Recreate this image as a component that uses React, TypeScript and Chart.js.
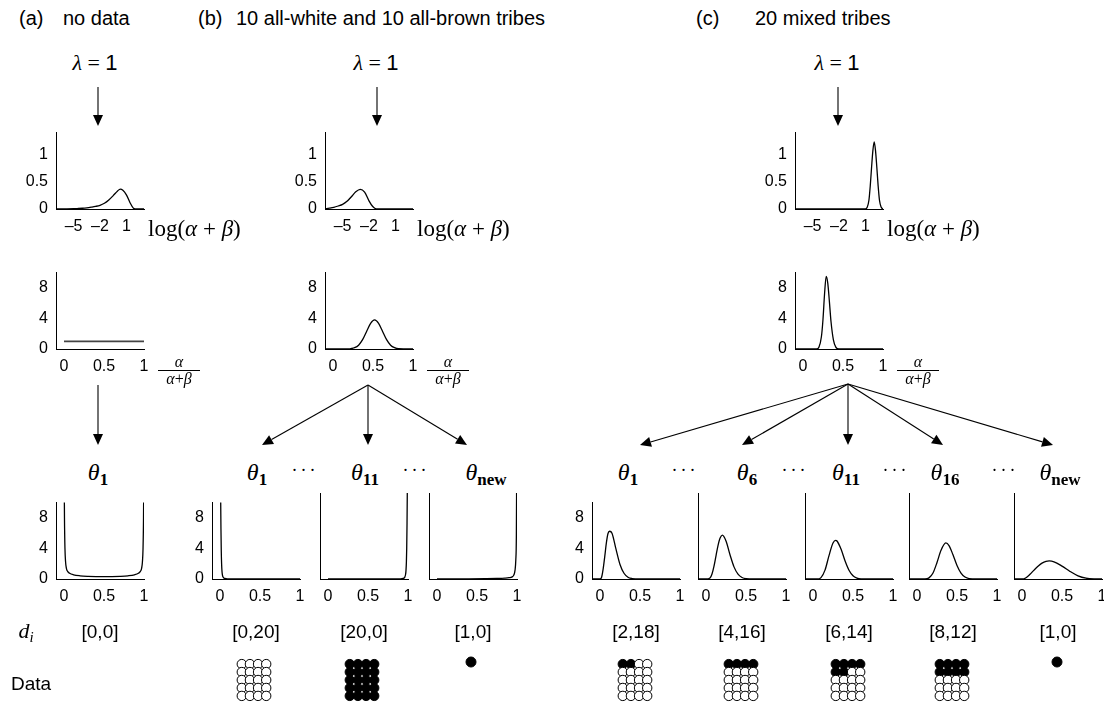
import React, { useEffect, useRef } from "react";
import { Chart, registerables } from "chart.js";

Chart.register(...registerables);

const SANS = '"Liberation Sans", Arial, Helvetica, sans-serif';
const SERIF = '"Liberation Serif", "Times New Roman", serif';

// ---------------- tick labels ----------------
const logXTicks = [-5, -2, 1];
const logYTicks = [0, 0.5, 1];
const unitXTicks = [0, 0.5, 1];
const densYTicks = [0, 4, 8];

// ---------------- top row: p(log(alpha+beta)) ----------------
const logX_a = [-7, -6, -5, -4.5, -4, -3.5, -3, -2.5, -2, -1.5, -1, -0.5, 0, 0.3, 0.6, 1.0, 1.4, 1.8, 2.2, 3];
const logY_a = [0, 0.002, 0.005, 0.009, 0.014, 0.022, 0.034, 0.048, 0.068, 0.105, 0.165, 0.245, 0.33, 0.365, 0.345, 0.26, 0.12, 0.015, 0, 0];
const logX_b = [-7, -6.5, -6, -5.5, -5, -4.5, -4, -3.5, -3, -2.5, -2, -1.6, -1.3, -1, 3];
const logY_b = [0.004, 0.015, 0.03, 0.055, 0.085, 0.14, 0.225, 0.315, 0.36, 0.31, 0.15, 0.05, 0.01, 0, 0];
const logX_c = [-7, 1.0, 1.2, 1.4, 1.55, 1.7, 1.85, 2.0, 2.15, 2.3, 2.45, 2.6, 2.8, 3.0];
const logY_c = [0, 0, 0.03, 0.16, 0.42, 0.76, 1.07, 1.23, 1.07, 0.76, 0.42, 0.16, 0.03, 0];

// ---------------- middle row: p(alpha/(alpha+beta)) ----------------
const meanX_a = [0, 1];
const meanY_a = [1, 1];
const meanX_b = [-0.1, 0.2, 0.22, 0.27, 0.32, 0.37, 0.42, 0.47, 0.52, 0.57, 0.62, 0.67, 0.72, 0.77, 0.82, 1];
const meanY_b = [0, 0, 0.04, 0.17, 0.5, 1.22, 2.3, 3.35, 3.8, 3.35, 2.3, 1.22, 0.5, 0.17, 0.04, 0];
const meanX_c = [-0.1, 0.17, 0.2, 0.23, 0.25, 0.27, 0.29, 0.31, 0.33, 0.35, 0.38, 0.41, 0.45, 1];
const meanY_c = [0, 0, 0.25, 1.6, 3.9, 7.3, 9.5, 8.6, 6.2, 3.6, 1.2, 0.25, 0, 0];

// ---------------- bottom row: p(theta_i) ----------------
const thetaX_a1 = [0.002, 0.006, 0.012, 0.02, 0.03, 0.045, 0.07, 0.12, 0.2, 0.3, 0.4, 0.5, 0.6, 0.7, 0.8, 0.88, 0.93, 0.955, 0.97, 0.98, 0.988, 0.994, 0.998];
const thetaY_a1 = [14, 8, 4, 2.2, 1.4, 1.0, 0.75, 0.55, 0.42, 0.35, 0.32, 0.31, 0.32, 0.35, 0.42, 0.55, 0.75, 1.0, 1.4, 2.2, 4, 8, 14];

const thetaX_b1 = [0.004, 0.008, 0.012, 0.016, 0.02, 0.025, 0.03, 0.04, 0.06, 0.1, 0.2, 0.4, 1];
const thetaY_b1 = [16, 11, 6.5, 3.6, 2.0, 1.0, 0.55, 0.22, 0.07, 0.02, 0.005, 0, 0];
const thetaX_b11 = [0, 0.6, 0.8, 0.9, 0.94, 0.96, 0.97, 0.975, 0.98, 0.984, 0.988, 0.992, 0.996];
const thetaY_b11 = [0, 0, 0.005, 0.02, 0.07, 0.22, 0.55, 1.0, 2.0, 3.6, 6.5, 11, 16];
const thetaX_bnew = [0, 0.2, 0.4, 0.6, 0.75, 0.85, 0.9, 0.94, 0.96, 0.975, 0.985, 0.992, 0.997];
const thetaY_bnew = [0.01, 0.015, 0.02, 0.035, 0.06, 0.1, 0.15, 0.25, 0.45, 1.0, 2.2, 5, 14];

const thetaX_c1 = [-0.1, 0, 0.02, 0.04, 0.06, 0.08, 0.1, 0.12, 0.15, 0.2, 0.25, 0.3, 0.35, 0.4, 0.5, 1];
const thetaY_c1 = [0, 0, 0.22, 1.35, 3.0, 4.75, 5.95, 6.25, 6.0, 3.9, 1.9, 0.75, 0.23, 0.06, 0, 0];
const thetaX_c6 = [-0.1, 0, 0.05, 0.075, 0.1, 0.125, 0.15, 0.175, 0.205, 0.25, 0.3, 0.35, 0.4, 0.45, 0.5, 0.6, 1];
const thetaY_c6 = [0, 0, 0.12, 0.58, 1.49, 2.7, 3.89, 4.74, 5.1, 4.41, 2.82, 1.41, 0.56, 0.18, 0.045, 0, 0];
const thetaX_c11 = [-0.1, 0.05, 0.1, 0.15, 0.2, 0.25, 0.283, 0.3, 0.35, 0.4, 0.45, 0.5, 0.55, 0.6, 0.7, 1];
const thetaY_c11 = [0, 0, 0.16, 1.03, 2.72, 4.18, 4.5, 4.42, 3.48, 2.12, 1.02, 0.38, 0.11, 0.02, 0, 0];
const thetaX_c16 = [-0.1, 0.1, 0.15, 0.2, 0.25, 0.3, 0.36, 0.4, 0.45, 0.5, 0.55, 0.6, 0.65, 0.75, 1];
const thetaY_c16 = [0, 0, 0.13, 0.7, 1.92, 3.34, 4.2, 3.89, 2.81, 1.58, 0.69, 0.23, 0.055, 0, 0];
const thetaX_cnew = [-0.1, 0.0, 0.05, 0.1, 0.15, 0.2, 0.25, 0.3, 0.34, 0.4, 0.5, 0.6, 0.7, 0.8, 0.9, 1];
const thetaY_cnew = [0, 0, 0.15, 0.55, 1.03, 1.48, 1.84, 2.05, 2.1, 2.0, 1.5, 0.88, 0.37, 0.09, 0.01, 0];

// ---------------- observed data d_i = [brown, white] ----------------
const tribeLabelsA = ["[0,0]"];
const tribeCountsB = [[0, 20], [20, 0], [1, 0]];
const tribeCountsC = [[2, 18], [4, 16], [6, 14], [8, 12], [1, 0]];

// ---------------- layout (positions only) ----------------
const PW = 88;
const PH = 86;
const COL = { a: 56, b: 325, c: 795 };
const ROW_TOP = 123;
const ROW_MID = 263;
const ROW_BOT = 493;
const BOT_B = [212, 320, 429];
const BOT_C = [592, 698, 805, 909, 1014];

type PlotProps = {
  left: number;
  top: number;
  xs: number[];
  ys: number[];
  xMin: number;
  xMax: number;
  yMax: number;
  xTicks: number[];
  yTicks: number[];
  showY?: boolean;
  color?: string;
  lineWidth?: number;
};

function CurvePlot(p: PlotProps) {
  const ref = useRef<HTMLCanvasElement | null>(null);
  const PL = 46, PR = 18, PT = 8, PB = 32;
  const W = PW + PL + PR;
  const H = PH + PT + PB;
  useEffect(() => {
    if (!ref.current) return;
    const fmt = (v: number) => (v < 0 ? "\u2013" + Math.abs(v) : String(v));
    const chart = new Chart(ref.current, {
      type: "line",
      data: {
        datasets: [
          {
            data: p.xs.map((x, i) => ({ x, y: p.ys[i] })),
            borderColor: p.color ?? "#000",
            borderWidth: p.lineWidth ?? 1.3,
            pointRadius: 0,
            cubicInterpolationMode: "monotone",
            fill: false,
          } as any,
        ],
      },
      options: {
        animation: false,
        responsive: false,
        events: [],
        layout: { padding: { top: PT, right: PR, left: 0, bottom: 0 } },
        plugins: { legend: { display: false }, tooltip: { enabled: false } },
        scales: {
          x: {
            type: "linear",
            min: p.xMin,
            max: p.xMax,
            grid: { display: false, drawTicks: false },
            border: { display: true, color: "#000", width: 1 },
            afterBuildTicks: (ax: any) => {
              ax.ticks = p.xTicks.map((v) => ({ value: v }));
            },
            afterFit: (ax: any) => {
              ax.height = PB;
            },
            ticks: {
              autoSkip: false,
              maxRotation: 0,
              padding: 8,
              color: "#000",
              font: { family: SANS, size: 16 },
              callback: (v: any) => fmt(Number(v)),
            },
          },
          y: {
            type: "linear",
            min: 0,
            max: p.yMax,
            grid: { display: false, drawTicks: false },
            border: { display: true, color: "#000", width: 1 },
            afterBuildTicks: (ax: any) => {
              ax.ticks = p.yTicks.map((v) => ({ value: v }));
            },
            afterFit: (ax: any) => {
              ax.width = PL;
            },
            ticks: {
              display: p.showY !== false,
              padding: 8,
              color: "#000",
              font: { family: SANS, size: 16 },
              callback: (v: any) => String(v),
            },
          },
        },
      } as any,
    });
    return () => chart.destroy();
  }, []);
  return (
    <canvas
      ref={ref}
      width={W}
      height={H}
      style={{ position: "absolute", left: p.left - PL, top: p.top - PT, width: W, height: H }}
    />
  );
}

function DotGrid({ cx, cy, counts }: { cx: number; cy: number; counts: number[] }) {
  const ref = useRef<HTMLCanvasElement | null>(null);
  const W = 64, H = 70;
  const XU = 9.9, YU = 9.5;
  useEffect(() => {
    if (!ref.current) return;
    const total = counts[0] + counts[1];
    const cols = total > 1 ? 4 : 1;
    const rows = Math.ceil(total / cols);
    const pts: { x: number; y: number }[] = [];
    const fills: string[] = [];
    for (let i = 0; i < total; i++) {
      const c = i % cols;
      const r = Math.floor(i / cols);
      pts.push({ x: c - (cols - 1) / 2, y: total > 1 ? (rows - 1) / 2 - r : 0 });
      fills.push(i < counts[0] ? "#000" : "#fff");
    }
    const chart = new Chart(ref.current, {
      type: "scatter",
      data: {
        datasets: [
          {
            data: pts,
            pointRadius: total > 1 ? 4.7 : 5.0,
            pointBorderWidth: 1,
            pointBorderColor: "#000",
            pointBackgroundColor: fills,
            clip: false,
          } as any,
        ],
      },
      options: {
        animation: false,
        responsive: false,
        events: [],
        layout: { padding: 0 },
        plugins: { legend: { display: false }, tooltip: { enabled: false } },
        scales: {
          x: { type: "linear", display: false, min: -W / 2 / XU, max: W / 2 / XU },
          y: { type: "linear", display: false, min: -H / 2 / YU, max: H / 2 / YU },
        },
      } as any,
    });
    return () => chart.destroy();
  }, []);
  return (
    <canvas
      ref={ref}
      width={W}
      height={H}
      style={{ position: "absolute", left: cx - W / 2, top: cy - H / 2, width: W, height: H }}
    />
  );
}

function Txt({ x, y, children, style, anchor = "center" }: any) {
  const tx = anchor === "left" ? "0" : "-50%";
  return (
    <div
      style={{
        position: "absolute",
        left: x,
        top: y,
        transform: `translate(${tx}, -50%)`,
        whiteSpace: "nowrap",
        lineHeight: 1,
        color: "#000",
        ...style,
      }}
    >
      {children}
    </div>
  );
}

function Lambda({ x }: { x: number }) {
  return (
    <Txt x={x} y={63} style={{ fontSize: 22 }}>
      <span style={{ fontFamily: SERIF, fontStyle: "italic" }}>λ</span>
      <span style={{ fontFamily: SERIF }}> = </span>
      <span style={{ fontFamily: SANS }}>1</span>
    </Txt>
  );
}

function LogLabel({ axis }: { axis: number }) {
  return (
    <Txt x={axis + 92} y={228} anchor="left" style={{ fontSize: 23, fontFamily: SERIF }}>
      log(<i>α</i> + <i>β</i>)
    </Txt>
  );
}

function FracLabel({ axis }: { axis: number }) {
  return (
    <div
      style={{
        position: "absolute",
        left: axis + 102,
        top: 355,
        width: 42,
        fontFamily: SERIF,
        fontStyle: "italic",
        fontSize: 16,
        lineHeight: "14px",
        textAlign: "center",
        color: "#000",
      }}
    >
      <div>α</div>
      <div style={{ borderTop: "1.6px solid #000", marginTop: 1, paddingTop: 1 }}>
        α<span style={{ fontStyle: "normal" }}>+</span>β
      </div>
    </div>
  );
}

function Theta({ x, sub }: { x: number; sub: string }) {
  return (
    <Txt x={x} y={472} style={{ fontFamily: SERIF, fontSize: 24 }}>
      <i>θ</i>
      <span style={{ fontWeight: "bold", fontSize: 17, position: "relative", top: 5 }}>{sub}</span>
    </Txt>
  );
}

function Dots({ x }: { x: number }) {
  return (
    <Txt x={x} y={470} style={{ fontFamily: SERIF, fontSize: 18, letterSpacing: 3 }}>
      ···
    </Txt>
  );
}

function Arrows() {
  const segs: [number, number, number, number][] = [
    [98, 87, 98, 126],
    [377, 87, 377, 126],
    [838, 87, 838, 126],
    [98, 385, 98, 445],
    [368, 385, 262, 445],
    [368, 385, 368, 445],
    [368, 385, 467, 445],
    [848, 384, 640, 445],
    [848, 384, 742, 445],
    [848, 384, 848, 445],
    [848, 384, 943, 445],
    [848, 384, 1053, 445],
  ];
  return (
    <svg width={1104} height={706} style={{ position: "absolute", left: 0, top: 0 }}>
      {segs.map(([x1, y1, x2, y2], i) => {
        const dx = x2 - x1, dy = y2 - y1;
        const L = Math.hypot(dx, dy);
        const ux = dx / L, uy = dy / L;
        const len = 11, hw = 5;
        const bx = x2 - ux * len, by = y2 - uy * len;
        const px = -uy * hw, py = ux * hw;
        return (
          <g key={i}>
            <line x1={x1} y1={y1} x2={bx} y2={by} stroke="#000" strokeWidth={1.1} />
            <polygon points={`${x2},${y2} ${bx + px},${by + py} ${bx - px},${by - py}`} fill="#000" />
          </g>
        );
      })}
    </svg>
  );
}

export default function App() {
  const titleStyle = { fontFamily: SANS, fontSize: 20 };
  const labStyle = { fontFamily: SANS, fontSize: 19 };
  const botCenters = (lefts: number[]) => lefts.map((l) => l + PW / 2);
  const bC = botCenters(BOT_B);
  const cC = botCenters(BOT_C);
  return (
    <div style={{ position: "absolute", left: 0, top: 0, width: 1104, height: 706, overflow: "hidden", background: "#fff" }}>
      {/* titles */}
      <Txt x={19} y={18} anchor="left" style={titleStyle}>(a)</Txt>
      <Txt x={63} y={18} anchor="left" style={titleStyle}>no data</Txt>
      <Txt x={198} y={18} anchor="left" style={titleStyle}>(b)</Txt>
      <Txt x={236} y={18} anchor="left" style={titleStyle}>10 all-white and 10 all-brown tribes</Txt>
      <Txt x={696} y={18} anchor="left" style={titleStyle}>(c)</Txt>
      <Txt x={755} y={18} anchor="left" style={titleStyle}>20 mixed tribes</Txt>

      <Lambda x={95} />
      <Lambda x={376} />
      <Lambda x={837} />

      {/* top row */}
      <CurvePlot left={COL.a} top={ROW_TOP} xs={logX_a} ys={logY_a} xMin={-7} xMax={3} yMax={1.4} xTicks={logXTicks} yTicks={logYTicks} />
      <CurvePlot left={COL.b} top={ROW_TOP} xs={logX_b} ys={logY_b} xMin={-7} xMax={3} yMax={1.4} xTicks={logXTicks} yTicks={logYTicks} />
      <CurvePlot left={COL.c} top={ROW_TOP} xs={logX_c} ys={logY_c} xMin={-7} xMax={3} yMax={1.4} xTicks={logXTicks} yTicks={logYTicks} />
      <LogLabel axis={COL.a} />
      <LogLabel axis={COL.b} />
      <LogLabel axis={COL.c} />

      {/* middle row */}
      <CurvePlot left={COL.a} top={ROW_MID} xs={meanX_a} ys={meanY_a} xMin={-0.1} xMax={1} yMax={10} xTicks={unitXTicks} yTicks={densYTicks} color="#444" lineWidth={1.6} />
      <CurvePlot left={COL.b} top={ROW_MID} xs={meanX_b} ys={meanY_b} xMin={-0.1} xMax={1} yMax={10} xTicks={unitXTicks} yTicks={densYTicks} />
      <CurvePlot left={COL.c} top={ROW_MID} xs={meanX_c} ys={meanY_c} xMin={-0.1} xMax={1} yMax={10} xTicks={unitXTicks} yTicks={densYTicks} />
      <FracLabel axis={COL.a} />
      <FracLabel axis={COL.b} />
      <FracLabel axis={COL.c} />

      {/* theta labels */}
      <Theta x={98} sub="1" />
      <Theta x={257} sub="1" />
      <Dots x={305} />
      <Theta x={365} sub="11" />
      <Dots x={416} />
      <Theta x={486} sub="new" />
      <Theta x={628} sub="1" />
      <Dots x={685} />
      <Theta x={747} sub="6" />
      <Dots x={795} />
      <Theta x={846} sub="11" />
      <Dots x={896} />
      <Theta x={945} sub="16" />
      <Dots x={1005} />
      <Theta x={1060} sub="new" />

      {/* bottom row */}
      <CurvePlot left={COL.a} top={ROW_BOT} xs={thetaX_a1} ys={thetaY_a1} xMin={-0.1} xMax={1} yMax={10} xTicks={unitXTicks} yTicks={densYTicks} />
      <CurvePlot left={BOT_B[0]} top={ROW_BOT} xs={thetaX_b1} ys={thetaY_b1} xMin={-0.1} xMax={1} yMax={10} xTicks={unitXTicks} yTicks={densYTicks} />
      <CurvePlot left={BOT_B[1]} top={ROW_BOT} xs={thetaX_b11} ys={thetaY_b11} xMin={-0.1} xMax={1} yMax={10} xTicks={unitXTicks} yTicks={densYTicks} showY={false} />
      <CurvePlot left={BOT_B[2]} top={ROW_BOT} xs={thetaX_bnew} ys={thetaY_bnew} xMin={-0.1} xMax={1} yMax={10} xTicks={unitXTicks} yTicks={densYTicks} showY={false} />
      <CurvePlot left={BOT_C[0]} top={ROW_BOT} xs={thetaX_c1} ys={thetaY_c1} xMin={-0.1} xMax={1} yMax={10} xTicks={unitXTicks} yTicks={densYTicks} />
      <CurvePlot left={BOT_C[1]} top={ROW_BOT} xs={thetaX_c6} ys={thetaY_c6} xMin={-0.1} xMax={1} yMax={10} xTicks={unitXTicks} yTicks={densYTicks} showY={false} />
      <CurvePlot left={BOT_C[2]} top={ROW_BOT} xs={thetaX_c11} ys={thetaY_c11} xMin={-0.1} xMax={1} yMax={10} xTicks={unitXTicks} yTicks={densYTicks} showY={false} />
      <CurvePlot left={BOT_C[3]} top={ROW_BOT} xs={thetaX_c16} ys={thetaY_c16} xMin={-0.1} xMax={1} yMax={10} xTicks={unitXTicks} yTicks={densYTicks} showY={false} />
      <CurvePlot left={BOT_C[4]} top={ROW_BOT} xs={thetaX_cnew} ys={thetaY_cnew} xMin={-0.1} xMax={1} yMax={10} xTicks={unitXTicks} yTicks={densYTicks} showY={false} />

      <Arrows />

      {/* d_i labels */}
      <Txt x={26} y={631} style={{ fontFamily: SERIF, fontSize: 22 }}>
        <i>d</i>
        <i style={{ fontSize: 15, position: "relative", top: 4 }}>i</i>
      </Txt>
      <Txt x={COL.a + PW / 2} y={631} style={labStyle}>{tribeLabelsA[0]}</Txt>
      {tribeCountsB.map((c, i) => (
        <Txt key={"lb" + i} x={bC[i]} y={631} style={labStyle}>{`[${c[0]},${c[1]}]`}</Txt>
      ))}
      {tribeCountsC.map((c, i) => (
        <Txt key={"lc" + i} x={cC[i]} y={631} style={labStyle}>{`[${c[0]},${c[1]}]`}</Txt>
      ))}

      <Txt x={11} y={683} anchor="left" style={labStyle}>Data</Txt>
      {tribeCountsB.map((c, i) => (
        <DotGrid key={"gb" + i} cx={bC[i] - 2} cy={c[0] + c[1] > 1 ? 680 : 662} counts={c} />
      ))}
      {tribeCountsC.map((c, i) => (
        <DotGrid key={"gc" + i} cx={cC[i] - 1} cy={c[0] + c[1] > 1 ? 680 : 662} counts={c} />
      ))}
    </div>
  );
}
